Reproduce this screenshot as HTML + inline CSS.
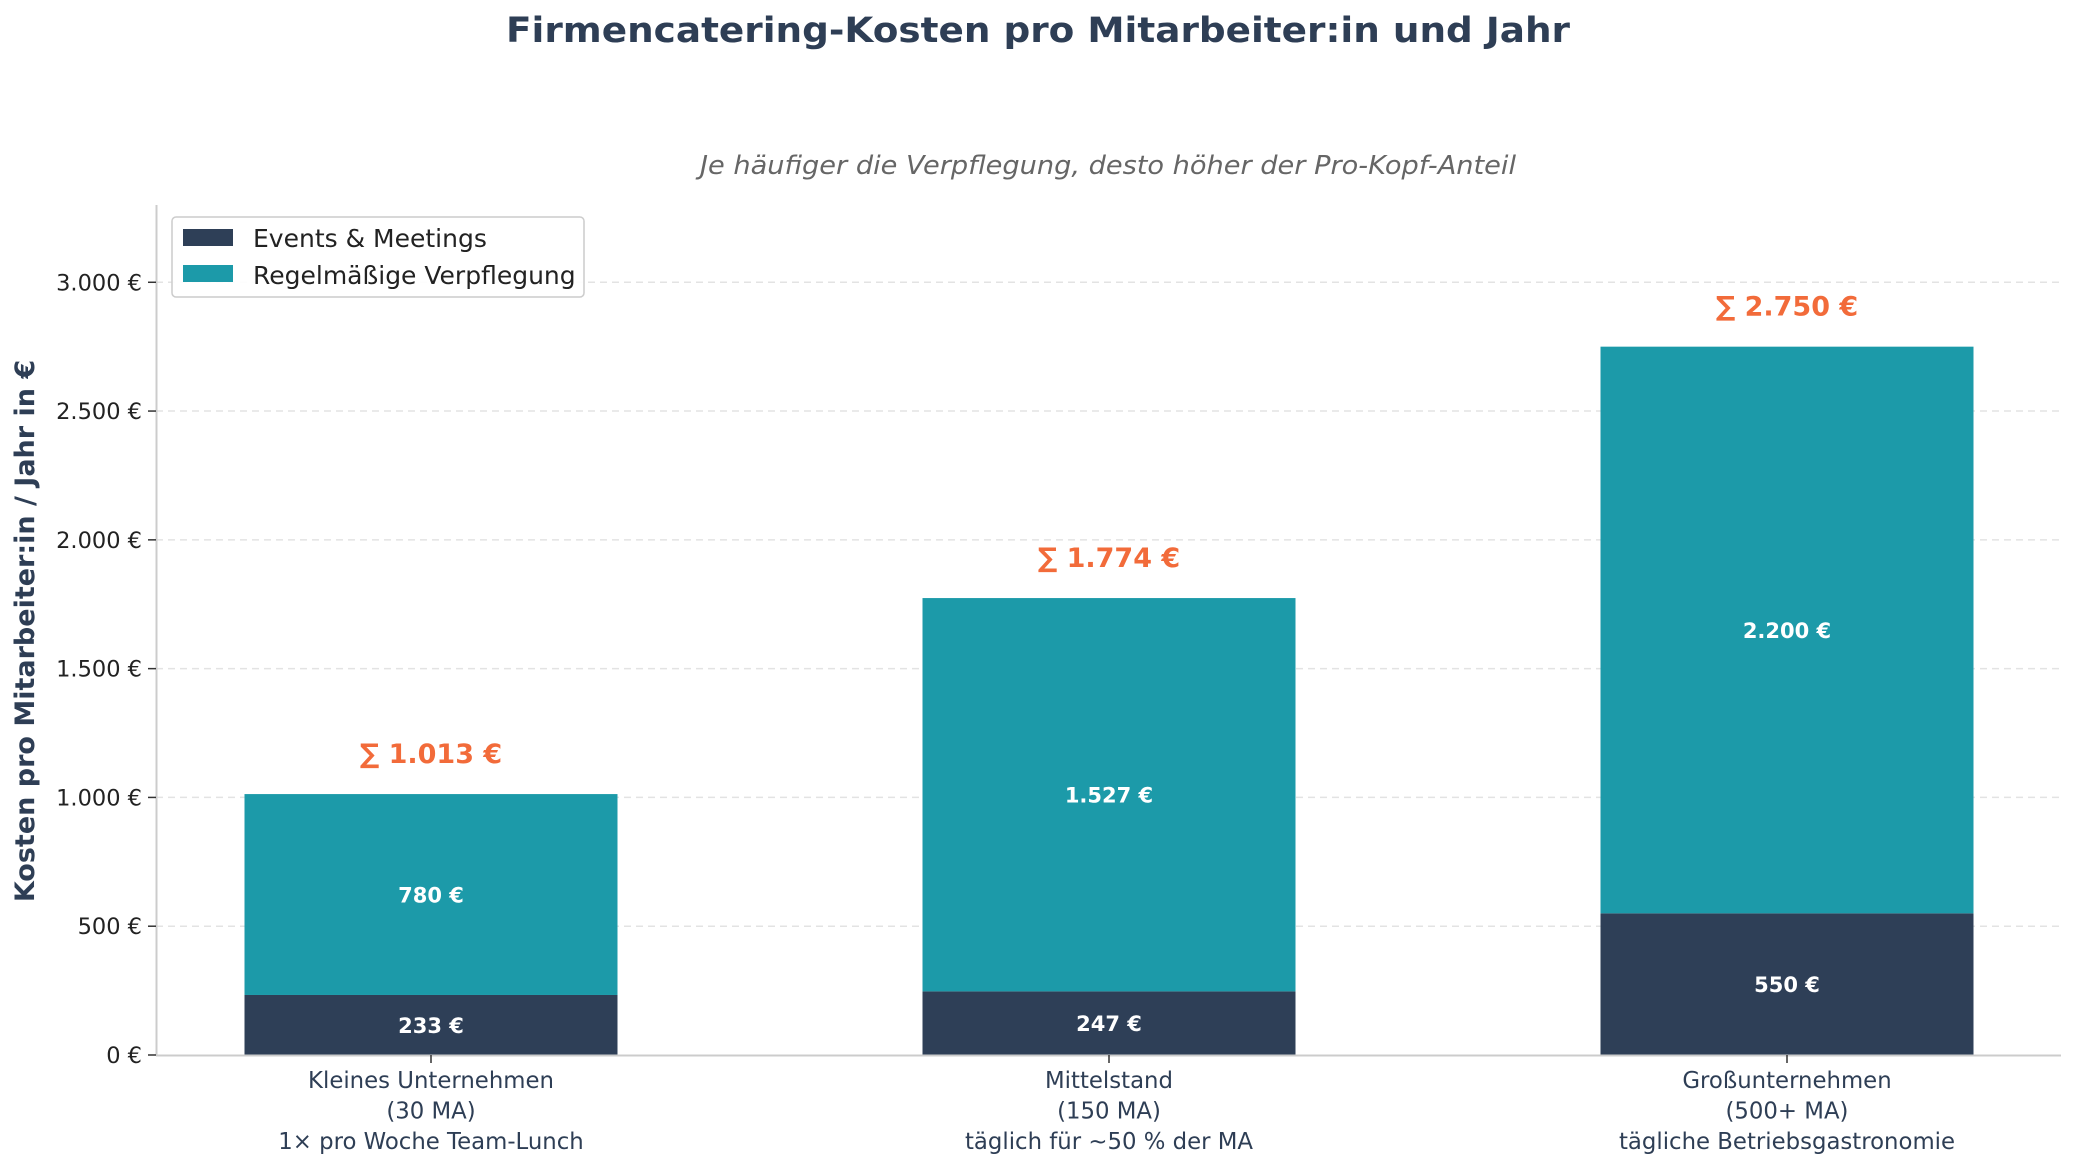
<!DOCTYPE html>
<html><head><meta charset="utf-8"><style>
html,body{margin:0;padding:0;background:#fff;}
svg{display:block;font-family:"DejaVu Sans","Liberation Sans",sans-serif;}
</style></head><body>
<svg id="chart" width="2075" height="1168" viewBox="0 0 2075 1168" xmlns="http://www.w3.org/2000/svg">
<text x="1038" y="42" text-anchor="middle" font-size="35" font-weight="bold" fill="#2e3e55" textLength="1064" lengthAdjust="spacingAndGlyphs">Firmencatering-Kosten pro Mitarbeiter:in und Jahr</text>
<text x="1108" y="174" text-anchor="middle" font-size="26" font-style="italic" fill="#666" textLength="816" lengthAdjust="spacingAndGlyphs">Je häufiger die Verpflegung, desto höher der Pro-Kopf-Anteil</text>
<text transform="translate(34,631) rotate(-90)" text-anchor="middle" font-size="27" font-weight="bold" fill="#2e3e55">Kosten pro Mitarbeiter:in / Jahr in €</text>
<g id="grid"></g>
<g id="bars"></g>
<line x1="156.5" y1="205" x2="156.5" y2="1055" stroke="#ccc" stroke-width="2"/>
<line x1="156" y1="1055.5" x2="2061" y2="1055.5" stroke="#ccc" stroke-width="2"/>
<g id="ticks"></g>
<g>
<rect x="172" y="217" width="412" height="80" rx="4" fill="#fff" fill-opacity="0.9" stroke="#ccc" stroke-width="1.5"/>
<rect x="183" y="229" width="50" height="17" fill="#2e3f57"/>
<text x="253" y="247" font-size="25" fill="#222">Events &amp; Meetings</text>
<rect x="183" y="265" width="50" height="17" fill="#1c9aa9"/>
<text x="253" y="284" font-size="25" fill="#222">Regelmäßige Verpflegung</text>
</g>
</svg>
<script>
const categories = [["Kleines Unternehmen","(30 MA)","1× pro Woche Team-Lunch"],["Mittelstand","(150 MA)","täglich für ~50 % der MA"],["Großunternehmen","(500+ MA)","tägliche Betriebsgastronomie"]];
const eventsValues = [233, 247, 550];
const regularValues = [780, 1527, 2200];
const yTicks = [0, 500, 1000, 1500, 2000, 2500, 3000];
const yTickLabels = ["0 €","500 €","1.000 €","1.500 €","2.000 €","2.500 €","3.000 €"];

const NS = "http://www.w3.org/2000/svg";
const plotL = 156, plotR = 2061, plotT = 205, plotB = 1055, yMax = 3300;
const y = v => plotB - v / yMax * (plotB - plotT);
const step = 678, x0 = 431;
const xc = i => x0 + i * step;
const bw = 373;
const fmt = v => v.toString().replace(/\B(?=(\d{3})+(?!\d))/g, ".") + " €";
function mk(tag, attrs, parent){const e=document.createElementNS(NS,tag);for(const k in attrs)e.setAttribute(k,attrs[k]);parent.appendChild(e);return e;}
const grid=document.getElementById('grid'), bars=document.getElementById('bars'), ticks=document.getElementById('ticks');
yTicks.forEach((t,i)=>{
  if(t>0){const g=mk('line',{x1:plotL,x2:plotR,y1:y(t),y2:y(t),stroke:'#e3e3e3','stroke-width':1.5,'stroke-dasharray':'7,5'},grid);
  
  }
  const tk=mk('line',{x1:plotL-8,x2:plotL,y1:y(t),y2:y(t),stroke:'#333','stroke-width':1.5},ticks);
  
  
  const lb=mk('text',{x:plotL-14,y:y(t)+8,'text-anchor':'end','font-size':22.5,fill:'#222'},ticks);
  lb.textContent=yTickLabels[i];
  
  
});
categories.forEach((c,i)=>{
  const cx=xc(i), e=eventsValues[i], r=regularValues[i], tot=e+r;
  const b1=mk('rect',{x:cx-bw/2,y:y(e),width:bw,height:y(0)-y(e),fill:'#2e3f57'},bars);
  
  
  const b2=mk('rect',{x:cx-bw/2,y:y(tot),width:bw,height:y(e)-y(tot),fill:'#1c9aa9'},bars);
  
  
  const l1=mk('text',{x:cx,y:(y(0)+y(e))/2+8,'text-anchor':'middle','font-size':21,'font-weight':'bold',fill:'#fff'},bars);
  l1.textContent=fmt(e);
  
  
  const l2=mk('text',{x:cx,y:(y(e)+y(tot))/2+8,'text-anchor':'middle','font-size':21,'font-weight':'bold',fill:'#fff'},bars);
  l2.textContent=fmt(r);
  
  
  const s=mk('text',{x:cx,y:y(tot)-31,'text-anchor':'middle','font-size':27,'font-weight':'bold',fill:'#f26b3a'},bars);
  s.textContent="∑ "+fmt(tot);
  
  
  const tk=mk('line',{x1:cx,x2:cx,y1:plotB,y2:plotB+8,stroke:'#333','stroke-width':1.5},ticks);
  
  
  c.forEach((line,j)=>{
    const t=mk('text',{x:cx,y:1088+j*30.5,'text-anchor':'middle','font-size':22.8,fill:'#2e3e55'},ticks);
    t.textContent=line;
    
    
  });
});
</script>
</body></html>
